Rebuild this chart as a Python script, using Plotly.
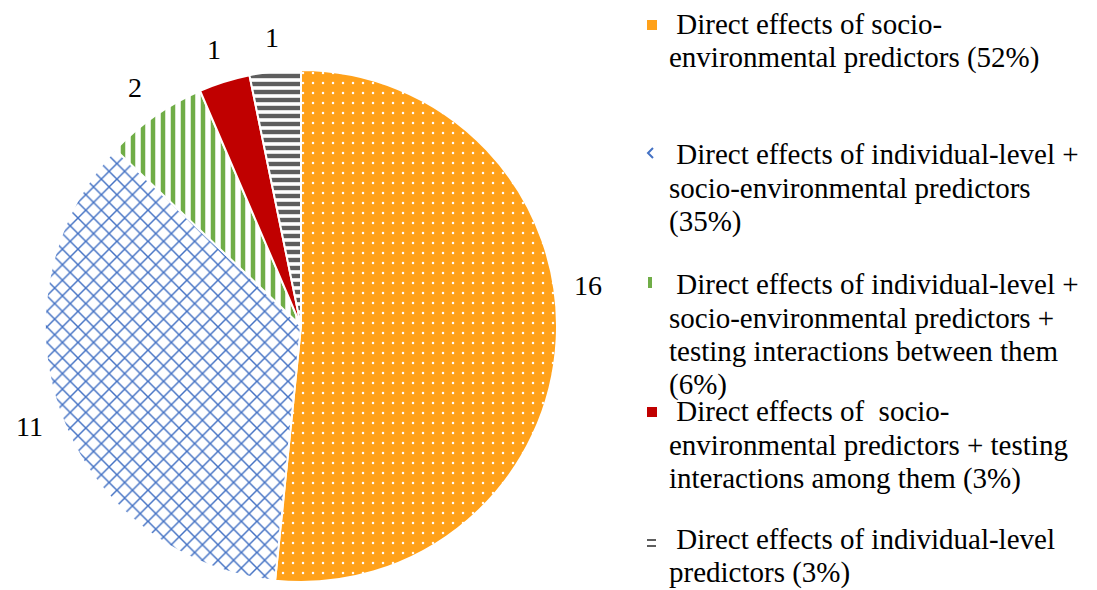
import math
import plotly.graph_objects as go

# ---------------- data ----------------
categories = [
    "Direct effects of socio-environmental predictors",
    "Direct effects of individual-level + socio-environmental predictors",
    "Direct effects of individual-level + socio-environmental predictors + testing interactions between them",
    "Direct effects of socio-environmental predictors + testing interactions among them",
    "Direct effects of individual-level predictors",
]
counts = [16, 11, 2, 1, 1]
percent_labels = ["52%", "35%", "6%", "3%", "3%"]
legend_lines = [
    ["Direct effects of socio-", "environmental predictors (52%)"],
    ["Direct effects of individual-level +", "socio-environmental predictors", "(35%)"],
    ["Direct effects of individual-level +", "socio-environmental predictors +",
     "testing interactions between them", "(6%)"],
    ["Direct effects of  socio-", "environmental predictors + testing",
     "interactions among them (3%)"],
    ["Direct effects of individual-level", "predictors (3%)"],
]

# ---------------- style ----------------
OFF = 8                      # page body margin
W, H = 1097 - OFF, 590 - OFF
ORANGE = "#FFA11A"
BLUE = "#4472C4"
GREEN = "#70AD47"
RED = "#C00000"
GRAY = "#5E5E5E"
FONT = "Liberation Serif"

CX, CY, R = 301, 326, 256  # pie centre / radius in screen pixels


def px(x):
    return (x - OFF) / W


def py(y):
    return 1 - (y - OFF) / H


fig = go.Figure()
fig.add_trace(go.Pie(
    labels=categories,
    values=counts,
    sort=False,
    direction="clockwise",
    rotation=0,
    textinfo="none",
    hoverinfo="label+value+percent",
    domain=dict(x=[px(CX - R), px(CX + R)], y=[py(CY + R), py(CY - R)]),
    marker=dict(
        colors=[ORANGE, "white", "white", RED, "white"],
        line=dict(color="white", width=2),
        pattern=dict(
            shape=[".", "x", "|", "", "-"],
            fgcolor=["white", BLUE, GREEN, RED, GRAY],
            bgcolor=[ORANGE, "white", "white", RED, "white"],
            size=[10, 11, 10, 8, 8],
            solidity=[0.05, 0.25, 0.45, 0.3, 0.55],
            fillmode="replace",
        ),
    ),
    showlegend=False,
))

# value labels positioned from the data (slice mid-angles)
total = sum(counts)
cum = 0
label_r = 290
angle_nudge = [-11, 0, 0, 0, 0]  # degrees, Excel best-fit placement
for v, nd in zip(counts, angle_nudge):
    mid = (cum + v / 2) / total * 360 + nd
    cum += v
    t = math.radians(mid)
    x = CX + label_r * math.sin(t)
    y = CY - label_r * math.cos(t)
    fig.add_annotation(x=px(x), y=py(y), xref="paper", yref="paper",
                       text=str(v), showarrow=False, xanchor="center", yanchor="middle",
                       font=dict(family=FONT, size=28, color="black"))

# legend (manual)
entry_baselines = [33, 163, 293, 420, 548]
LINE_H = 33.5
TEXT_X = 667
FS = 29
for lines, base in zip(legend_lines, entry_baselines):
    for i, ln in enumerate(lines):
        yb = base + i * LINE_H
        txt = ("\u00a0" + ln) if i == 0 else ln
        fig.add_annotation(x=px(TEXT_X), y=py(yb - 9), xref="paper", yref="paper",
                           text=txt, showarrow=False, xanchor="left", yanchor="middle",
                           font=dict(family=FONT, size=FS, color="black"))

# legend markers
mx = 647
fig.add_shape(type="rect", xref="paper", yref="paper", x0=px(mx), x1=px(mx + 10),
              y0=py(30), y1=py(20), fillcolor=ORANGE, line_width=0)
fig.add_shape(type="path", xref="paper", yref="paper",
              path=f"M {px(653)} {py(148)} L {px(648)} {py(153)} L {px(653)} {py(158)}",
              line=dict(color=BLUE, width=2))
fig.add_shape(type="rect", xref="paper", yref="paper", x0=px(648), x1=px(652),
              y0=py(288), y1=py(277), fillcolor=GREEN, line_width=0)
fig.add_shape(type="rect", xref="paper", yref="paper", x0=px(mx), x1=px(mx + 10),
              y0=py(417), y1=py(407), fillcolor=RED, line_width=0)
for yy in (539, 545):
    fig.add_shape(type="rect", xref="paper", yref="paper", x0=px(647), x1=px(656),
                  y0=py(yy + 2), y1=py(yy), fillcolor=GRAY, line_width=0)

fig.update_layout(
    width=W, height=H,
    margin=dict(l=0, r=0, t=0, b=0),
    paper_bgcolor="white",
    plot_bgcolor="white",
    showlegend=False,
)

fig.write_html("out.html")
